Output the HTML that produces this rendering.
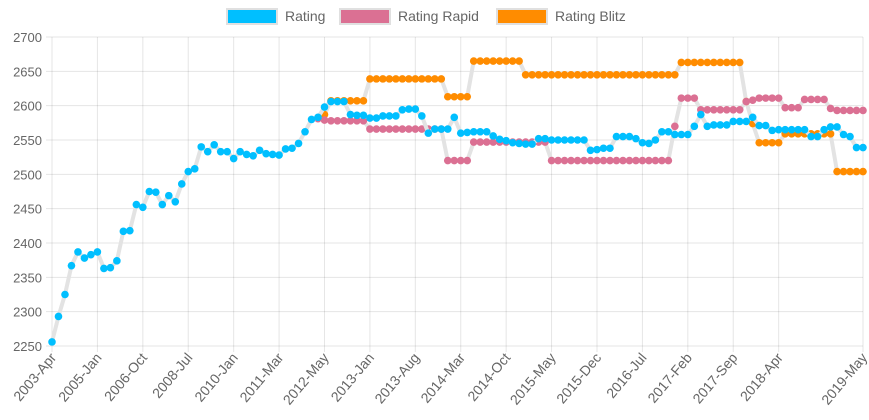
<!DOCTYPE html>
<html><head><meta charset="utf-8">
<style>
html,body{margin:0;padding:0;background:#fff;}
svg{display:block;font-family:"Liberation Sans",Arial,sans-serif;}
</style></head>
<body>
<svg id="chart" width="869" height="420" viewBox="0 0 869 420" xmlns="http://www.w3.org/2000/svg">
  <g>
    <g>
      <rect x="227" y="9" width="50" height="15" fill="#00bfff" stroke="#e0e0e0" stroke-width="2"/>
      <text x="285" y="21" font-size="14" fill="#666">Rating</text>
    </g>
    <g>
      <rect x="340" y="9" width="50" height="15" fill="#db7093" stroke="#e0e0e0" stroke-width="2"/>
      <text x="398" y="21" font-size="14" fill="#666">Rating Rapid</text>
    </g>
    <g>
      <rect x="497" y="9" width="50" height="15" fill="#ff8c00" stroke="#e0e0e0" stroke-width="2"/>
      <text x="555" y="21" font-size="14" fill="#666">Rating Blitz</text>
    </g>
  </g>
  <g id="grid"></g>
  <g id="yaxis"></g>
  <g id="xaxis"></g>
  <g id="series"></g>
</svg>
<script>
const tickLabels = ["2003-Apr","2005-Jan","2006-Oct","2008-Jul","2010-Jan","2011-Mar","2012-May","2013-Jan","2013-Aug","2014-Mar","2014-Oct","2015-May","2015-Dec","2016-Jul","2017-Feb","2017-Sep","2018-Apr","2019-May"];
const tickIndices = [0,7,14,21,28,35,42,49,56,63,70,77,84,91,98,105,112,125];
const yTicks = [2250,2300,2350,2400,2450,2500,2550,2600,2650,2700];
const ratingValues = [2256,2293,2325,2367,2387,2378,2383,2387,2363,2364,2374,2417,2418,2456,2452,2475,2474,2456,2469,2460,
2486,2504,2508,2540,2533,2543,2533,2533,2523,2533,2529,2527,2535,2530,2529,2528,2537,2538,2545,2562,
2580,2583,2598,2606,2606,2606,2587,2586,2586,2582,2582,2585,2585,2585,2594,2595,2595,2585,2560,2566,
2566,2566,2583,2560,2561,2562,2562,2562,2556,2551,2549,2546,2545,2544,2544,2552,2552,2550,2550,2550,
2550,2550,2550,2535,2536,2538,2538,2555,2555,2555,2552,2546,2545,2550,2562,2562,2558,2558,2558,2570,
2587,2570,2572,2572,2572,2577,2577,2577,2583,2571,2571,2564,2565,2565,2565,2565,2565,2555,2555,2565,
2569,2569,2558,2555,2539,2539];
const rapidValues = [null,null,null,null,null,null,null,null,null,null,null,null,null,null,null,null,null,null,null,null,
null,null,null,null,null,null,null,null,null,null,null,null,null,null,null,null,null,null,null,null,
null,2581,2579,2578,2578,2578,2578,2578,2578,2566,2566,2566,2566,2566,2566,2566,2566,2566,2566,2566,
2566,2520,2520,2520,2520,2547,2547,2547,2547,2547,2547,2547,2547,2547,2547,2547,2547,2520,2520,2520,
2520,2520,2520,2520,2520,2520,2520,2520,2520,2520,2520,2520,2520,2520,2520,2520,2570,2611,2611,2611,
2594,2594,2594,2594,2594,2594,2594,2606,2608,2611,2611,2611,2611,2597,2597,2597,2609,2609,2609,2609,
2596,2593,2593,2593,2593,2593];
const blitzValues = [null,null,null,null,null,null,null,null,null,null,null,null,null,null,null,null,null,null,null,null,
null,null,null,null,null,null,null,null,null,null,null,null,null,null,null,null,null,null,null,null,
null,null,2587,2607,2607,2607,2607,2607,2607,2639,2639,2639,2639,2639,2639,2639,2639,2639,2639,2639,
2639,2613,2613,2613,2613,2665,2665,2665,2665,2665,2665,2665,2665,2645,2645,2645,2645,2645,2645,2645,
2645,2645,2645,2645,2645,2645,2645,2645,2645,2645,2645,2645,2645,2645,2645,2645,2645,2663,2663,2663,
2663,2663,2663,2663,2663,2663,2663,2606,2574,2546,2546,2546,2546,2559,2559,2559,2559,2559,2559,2559,
2559,2504,2504,2504,2504,2504];

const NS="http://www.w3.org/2000/svg";
const X0=52, X1=863, Y0=346, Y1=37, YMIN=2250, YMAX=2700;
const N=ratingValues.length;
function xPos(i){return X0+(X1-X0)*i/(N-1);}
function yPos(v){return Y0-(v-YMIN)/(YMAX-YMIN)*(Y0-Y1);}
function mk(tag,attrs,parent){const e=document.createElementNS(NS,tag);for(const k in attrs)e.setAttribute(k,attrs[k]);parent.appendChild(e);return e;}

const grid=document.getElementById('grid'), yaxis=document.getElementById('yaxis'), xaxis=document.getElementById('xaxis'), series=document.getElementById('series');
yTicks.forEach(v=>{
  const l=mk('line',{x1:X0-6,x2:X1,y1:yPos(v),y2:yPos(v),stroke:'rgba(0,0,0,0.1)','stroke-width':1},grid);
  
  
  const t=mk('text',{x:X0-10,y:yPos(v)+5,'font-size':13,fill:'#666','text-anchor':'end'},yaxis);
  t.textContent=v;
  
  
});
tickIndices.forEach((idx,k)=>{
  const x=xPos(idx);
  const l=mk('line',{x1:x,x2:x,y1:Y1,y2:Y0+6,stroke:'rgba(0,0,0,0.1)','stroke-width':1},grid);
  
  
  const ax=x+5, ay=Y0+12;
  const t=mk('text',{x:ax,y:ay,'font-size':14,fill:'#666','text-anchor':'end',transform:`rotate(-50 ${ax} ${ay})`},xaxis);
  t.textContent=tickLabels[k];
  
  
});

function drawSeries(vals,color,name){
  const g=mk('g',{},series);
  
  
  let d='';let pen=false;
  vals.forEach((v,i)=>{if(v==null){pen=false;return;}d+=(pen?'L':'M')+xPos(i).toFixed(2)+' '+yPos(v).toFixed(2)+' ';pen=true;});
  const p=mk('path',{d:d,fill:'none',stroke:'#e3e3e3','stroke-width':4,'stroke-linejoin':'round'},g);
  
  
  return g;
}
function drawPoints(g,vals,color,name){
  vals.forEach((v,i)=>{if(v==null)return;
    const c=mk('circle',{cx:xPos(i),cy:yPos(v),r:3.8,fill:color},g);
    
    
  });
}
const gB=drawSeries(blitzValues,'#ff8c00','blitz-series');
const gR=drawSeries(rapidValues,'#db7093','rapid-series');
const gA=drawSeries(ratingValues,'#00bfff','rating-series');
drawPoints(gB,blitzValues,'#ff8c00','blitz');
drawPoints(gR,rapidValues,'#db7093','rapid');
drawPoints(gA,ratingValues,'#00bfff','rating');
</script>
</body></html>
